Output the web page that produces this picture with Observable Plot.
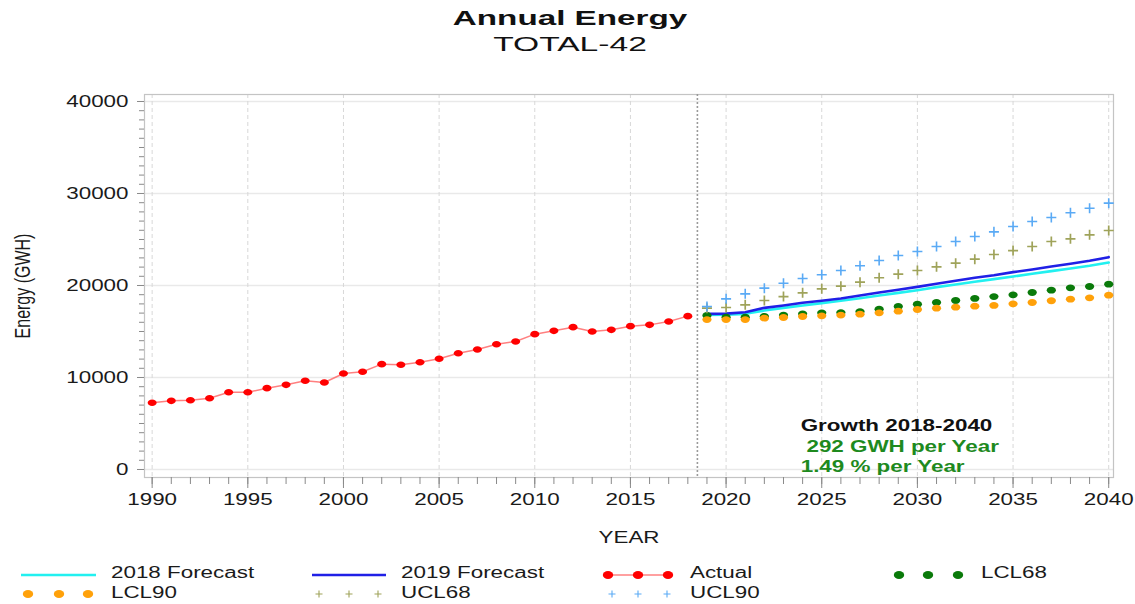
<!DOCTYPE html>
<html>
<head>
<meta charset="utf-8">
<script src="https://cdn.jsdelivr.net/npm/d3@7"></script>
<script src="https://cdn.jsdelivr.net/npm/@observablehq/plot@0.6"></script>
<style>
  html, body { margin: 0; padding: 0; background: #fff; overflow: hidden; }
  #wrap { position: relative; width: 1135px; height: 604px; font-family: "Liberation Sans", Arial, sans-serif; }
  .ttl { position: absolute; left: 570px; white-space: nowrap; color: #111; font-size: 20px; line-height: 1; }
  #chart { position: absolute; left: 0; top: 80px; }
  #legend { position: absolute; left: 0; top: 550px; }
</style>
</head>
<body>
<div id="wrap">
  <div class="ttl" id="t1" style="top:18px;font-weight:bold;transform:translate(-50%,-50%) scaleX(1.66);">Annual Energy</div>
  <div class="ttl" id="t2" style="top:44px;transform:translate(-50%,-50%) scaleX(1.68);">TOTAL-42</div>
  <div id="chart"></div>
  <div id="legend"></div>
</div>
<script>
// ---------- data ----------
const actualYears = [1990,1991,1992,1993,1994,1995,1996,1997,1998,1999,2000,2001,2002,2003,2004,2005,2006,2007,2008,2009,2010,2011,2012,2013,2014,2015,2016,2017,2018];
const actual = [7250,7460,7530,7750,8400,8400,8840,9200,9640,9460,10430,10620,11450,11380,11660,12030,12640,13040,13620,13910,14710,15070,15470,15000,15180,15580,15720,16090,16670];

const forecastYears = [2019,2020,2021,2022,2023,2024,2025,2026,2027,2028,2029,2030,2031,2032,2033,2034,2035,2036,2037,2038,2039,2040];
const forecast2018 = [16810,16820,16920,17280,17570,17830,18080,18340,18620,18910,19200,19490,19820,20110,20400,20690,20980,21270,21560,21850,22140,22500];
const forecast2019 = [16920,16940,17100,17570,17830,18120,18340,18590,18910,19240,19530,19850,20180,20510,20840,21120,21450,21740,22070,22360,22680,23080];
const ucl90 = [17720,18550,19090,19710,20250,20760,21160,21630,22140,22720,23260,23700,24240,24780,25330,25830,26410,26960,27390,27900,28400,28950];
const ucl68 = [17540,17610,17900,18370,18800,19200,19640,19930,20360,20840,21230,21630,22030,22430,22860,23370,23800,24240,24780,25070,25510,25980];
const lcl68 = [16740,16560,16560,16650,16780,16920,17030,17060,17170,17430,17720,17970,18150,18370,18590,18800,18990,19240,19490,19750,19890,20140];
const lcl90 = [16300,16300,16300,16450,16520,16630,16700,16780,16880,17030,17210,17390,17540,17640,17750,17830,18010,18150,18340,18510,18660,18950];

const yTicks = [0,10000,20000,30000,40000];
const xTicks = [1990,1995,2000,2005,2010,2015,2020,2025,2030,2035,2040];
const forecastStart = 2018.5;

const annotations = [
  {x: 2023.9, y: 4780, text: "Growth 2018-2040", color: "#111"},
  {x: 2024.2, y: 2500, text: "292 GWH per Year", color: "#1e8a1e"},
  {x: 2023.9, y: 330, text: "1.49 % per Year", color: "#1e8a1e"}
];

const legendItems = [
  {label: "2018 Forecast", kind: "line", color: "#22f0f0", sx: [21, 96], tx: 111, row: 0},
  {label: "2019 Forecast", kind: "line", color: "#2020e6", sx: [312, 386], tx: 401, row: 0},
  {label: "Actual", kind: "dotline", color: "#ff0000", sx: [608, 638, 668], tx: 690, row: 0},
  {label: "LCL68", kind: "dot", color: "#0a7a0a", sx: [899, 928, 958], tx: 981, row: 0},
  {label: "LCL90", kind: "dot", color: "#ffa10a", sx: [28, 59, 88], tx: 111, row: 1},
  {label: "UCL68", kind: "plus", color: "#9fa35a", sx: [319, 349, 378], tx: 401, row: 1},
  {label: "UCL90", kind: "plus", color: "#5aaaf5", sx: [612, 638, 667], tx: 690, row: 1}
];

// ---------- helpers ----------
const STRETCH = 1.4;
function ellipse(rx, ry) {
  return {draw(ctx) {
    const k = 0.5523;
    ctx.moveTo(rx, 0);
    ctx.bezierCurveTo(rx, ry * k, rx * k, ry, 0, ry);
    ctx.bezierCurveTo(-rx * k, ry, -rx, ry * k, -rx, 0);
    ctx.bezierCurveTo(-rx, -ry * k, -rx * k, -ry, 0, -ry);
    ctx.bezierCurveTo(rx * k, -ry, rx, -ry * k, rx, 0);
    ctx.closePath();
  }};
}
function plusSym(h) {
  return {draw(ctx) {
    ctx.moveTo(-h, 0); ctx.lineTo(h, 0);
    ctx.moveTo(0, -h); ctx.lineTo(0, h);
  }};
}
function stretchTexts(svg, s) {
  svg.querySelectorAll("text").forEach(t => {
    const tr = t.getAttribute("transform") || "";
    if (/rotate/.test(tr)) {
      const y = parseFloat(t.getAttribute("y") || 0);
      t.setAttribute("transform", `${tr} translate(0,${y}) scale(1,${s}) translate(0,${-y})`);
    } else {
      const x = parseFloat(t.getAttribute("x") || 0);
      t.setAttribute("transform", `${tr} translate(${x},0) scale(${s},1) translate(${-x},0)`);
    }
  });
}

const act = actualYears.map((year, i) => ({year, value: actual[i]}));
const fc = forecastYears.map((year, i) => ({
  year, f18: forecast2018[i], f19: forecast2019[i],
  u90: ucl90[i], u68: ucl68[i], l68: lcl68[i], l90: lcl90[i]
}));
const allYears = d3.range(1990, 2041);
const minorY = d3.range(0, 40001, 1000);

const FONT = "'Liberation Sans', Arial, sans-serif";

const chart = Plot.plot({
  width: 1135,
  height: 470,
  marginTop: 14,
  marginBottom: 73,
  marginLeft: 144,
  marginRight: 22,
  style: {fontFamily: FONT, fontSize: "16px", color: "#222", background: "white"},
  x: {domain: [1989.6, 2040.25]},
  y: {domain: [-870, 40760]},
  marks: [
    Plot.ruleY(yTicks, {stroke: "#e9e9e9", strokeWidth: 1.6}),
    Plot.ruleX(xTicks, {stroke: "#d8d8d8", strokeWidth: 1, strokeDasharray: "4,3"}),
    Plot.frame({stroke: "#c4c4c4", strokeWidth: 1.2}),
    Plot.ruleX([forecastStart], {stroke: "#9a9a9a", strokeWidth: 1.6, strokeDasharray: "2,2"}),
    // axes: ticks
    Plot.axisY(minorY, {tickSize: 5, tickFormat: () => "", color: "#8a8a8a", label: null}),
    Plot.axisY(yTicks, {tickSize: 7, tickFormat: () => "", color: "#8a8a8a", label: null}),
    Plot.axisY(yTicks, {tickSize: 0, tickPadding: 16, tickFormat: d => String(d), fontSize: 16, color: "#1a1a1a", label: null}),
    Plot.axisX(allYears, {tickSize: 7, tickFormat: () => "", color: "#8a8a8a", label: null}),
    Plot.axisX(xTicks, {tickSize: 11, tickFormat: () => "", color: "#8a8a8a", label: null}),
    Plot.axisX(xTicks, {tickSize: 0, tickPadding: 16, tickFormat: d => String(d), fontSize: 16, color: "#1a1a1a", label: null}),
    // actual
    Plot.line(act, {x: "year", y: "value", stroke: "#ff5555", strokeOpacity: 0.75, strokeWidth: 1.5}),
    Plot.dot(act, {x: "year", y: "value", r: 4, symbol: ellipse(4.5, 3.3), fill: "#ff0000", stroke: "none"}),
    // forecasts
    Plot.line(fc, {x: "year", y: "f18", stroke: "#22f0f0", strokeWidth: 2.6}),
    Plot.line(fc, {x: "year", y: "f19", stroke: "#2020e6", strokeWidth: 2.6}),
    Plot.dot(fc, {x: "year", y: "l68", r: 4, symbol: ellipse(4.6, 3.4), fill: "#0a7a0a", stroke: "none"}),
    Plot.dot(fc, {x: "year", y: "l90", r: 4, symbol: ellipse(4.6, 3.4), fill: "#ffa10a", stroke: "none"}),
    Plot.dot(fc, {x: "year", y: "u68", r: 4, symbol: plusSym(5), fill: "none", stroke: "#9fa35a", strokeWidth: 1.7}),
    Plot.dot(fc, {x: "year", y: "u90", r: 4, symbol: plusSym(5), fill: "none", stroke: "#5aaaf5", strokeWidth: 1.6}),
    // annotations
    Plot.text(annotations, {x: "x", y: "y", text: "text", fill: "color", textAnchor: "start", fontWeight: "bold", fontSize: 16}),
    // axis titles
    Plot.text(["Energy (GWH)"], {text: d => d, frameAnchor: "left", dx: -122, rotate: -90, textAnchor: "middle", lineAnchor: "middle", fontSize: 16, fill: "#1a1a1a"}),
    Plot.text(["YEAR"], {text: d => d, frameAnchor: "bottom", dy: 60, textAnchor: "middle", lineAnchor: "middle", fontSize: 16, fill: "#1a1a1a"})
  ]
});
stretchTexts(chart, STRETCH);
document.getElementById("chart").appendChild(chart);

// ---------- legend ----------
const lg = d3.select("#legend").append("svg")
  .attr("width", 1135).attr("height", 54)
  .style("display", "block")
  .attr("font-family", FONT).attr("font-size", 16);
const rowText = [22, 42];
const rowSym = [25, 44];
legendItems.forEach(it => {
  const ys = rowSym[it.row];
  const g = lg.append("g");
  if (it.kind === "line") {
    g.append("line").attr("x1", it.sx[0]).attr("x2", it.sx[1]).attr("y1", ys).attr("y2", ys)
      .attr("stroke", it.color).attr("stroke-width", 2.6);
  } else if (it.kind === "dotline" || it.kind === "dot") {
    if (it.kind === "dotline") {
      g.append("line").attr("x1", it.sx[0]).attr("x2", it.sx[2]).attr("y1", ys).attr("y2", ys)
        .attr("stroke", "#ff5555").attr("stroke-opacity", 0.75).attr("stroke-width", 1.5);
    }
    it.sx.forEach(x => g.append("ellipse").attr("cx", x).attr("cy", ys).attr("rx", 5.2).attr("ry", 4)
      .attr("fill", it.color));
  } else {
    it.sx.forEach(x => g.append("path")
      .attr("d", `M${x - 3.5},${ys}H${x + 3.5}M${x},${ys - 3.5}V${ys + 3.5}`)
      .attr("stroke", it.color).attr("stroke-width", 1.1).attr("fill", "none"));
  }
  g.append("text").attr("x", it.tx).attr("y", rowText[it.row]).attr("dy", "0.35em")
    .attr("fill", "#1a1a1a").text(it.label);
});
stretchTexts(lg.node(), STRETCH);
</script>
</body>
</html>
